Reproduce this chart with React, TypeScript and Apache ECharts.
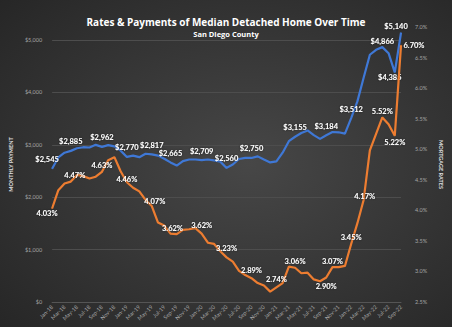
import React, { useEffect, useRef } from "react";
import * as echarts from "echarts";

const months = [
  "Jan-18","Feb-18","Mar-18","Apr-18","May-18","Jun-18","Jul-18","Aug-18","Sep-18","Oct-18","Nov-18","Dec-18",
  "Jan-19","Feb-19","Mar-19","Apr-19","May-19","Jun-19","Jul-19","Aug-19","Sep-19","Oct-19","Nov-19","Dec-19",
  "Jan-20","Feb-20","Mar-20","Apr-20","May-20","Jun-20","Jul-20","Aug-20","Sep-20","Oct-20","Nov-20","Dec-20",
  "Jan-21","Feb-21","Mar-21","Apr-21","May-21","Jun-21","Jul-21","Aug-21","Sep-21","Oct-21","Nov-21","Dec-21",
  "Jan-22","Feb-22","Mar-22","Apr-22","May-22","Jun-22","Jul-22","Aug-22","Sep-22",
];

const paymentValues = [
  2545, 2760, 2850, 2885, 2935, 2955, 2950, 3000, 2962, 2995, 2970, 2890,
  2770, 2795, 2765, 2830, 2817, 2795, 2735, 2665, 2605, 2690, 2720, 2720,
  2709, 2720, 2705, 2680, 2560, 2625, 2730, 2750, 2750, 2780, 2720, 2665,
  2685, 2850, 3070, 3155, 3225, 3275, 3185, 3115, 3184, 3245, 3240, 3215,
  3512, 3830, 4280, 4720, 4815, 4866, 4750, 4385, 5140,
];

const rateValues = [
  4.03, 4.33, 4.44, 4.47, 4.58, 4.56, 4.52, 4.55, 4.63, 4.82, 4.87, 4.64,
  4.46, 4.37, 4.31, 4.17, 4.07, 3.80, 3.75, 3.62, 3.61, 3.68, 3.69, 3.71,
  3.62, 3.47, 3.45, 3.33, 3.23, 3.16, 3.01, 2.94, 2.89, 2.81, 2.77, 2.67,
  2.74, 2.81, 3.08, 3.06, 2.97, 2.98, 2.87, 2.84, 2.90, 3.07, 3.07, 3.09,
  3.45, 3.79, 4.17, 4.98, 5.25, 5.52, 5.41, 5.22, 6.70,
];

const paymentLabelIdx = [0, 3, 8, 12, 16, 19, 24, 28, 32, 39, 44, 48, 53, 55, 56];
const rateLabelIdx = [0, 3, 8, 12, 16, 19, 24, 28, 32, 36, 39, 44, 45, 48, 50, 53, 55, 56];

const paymentLabelStyle: Record<number, any> = {
  0: { offset: [-5, 0] },
  53: { distance: 1 },
  55: { position: "bottom", distance: 1, offset: [-5, 0] },
  56: { distance: 2, offset: [-5, 0] },
};

const rateLabelStyle: Record<number, any> = {
  0: { position: "bottom", distance: 0, offset: [-5, 0] },
  3: { offset: [4, 0] },
  12: { position: "inside", offset: [0, -3] },
  16: { position: "inside", offset: [3, -5] },
  19: { position: "inside", offset: [2, -5] },
  24: { distance: 4 },
  28: { distance: 4 },
  32: { distance: 3 },
  36: { distance: 3 },
  44: { position: "bottom", distance: 4 },
  50: { position: "inside", offset: [1, -3] },
  55: { position: "bottom", distance: 2 },
  56: { position: "right", distance: 2 },
};

const FONT = "Lato";
const TITLE_FONT = "Open Sans";
const BLUE = "#3f78d6";
const ORANGE = "#ed7d31";
const AXIS_TEXT = "#a5a5a5";

const labelBase = {
  show: true,
  color: "#ffffff",
  fontFamily: FONT,
  fontWeight: "bold" as const,
  fontSize: 7.5,
  textShadowColor: "rgba(0,0,0,0.6)",
  textShadowBlur: 2,
};

export default function App() {
  const ref = useRef<HTMLDivElement>(null);

  useEffect(() => {
    document.body.style.margin = "0";
    if (!ref.current) return;
    const chart = echarts.init(ref.current, undefined, { renderer: "svg" });

    const paymentData = paymentValues.map((v, i) =>
      paymentLabelIdx.includes(i)
        ? {
            value: v,
            label: {
              ...labelBase,
              position: "top",
              distance: 4.5,
              formatter: "$" + v.toLocaleString("en-US"),
              ...(paymentLabelStyle[i] || {}),
            },
          }
        : v
    );
    const rateData = rateValues.map((v, i) =>
      rateLabelIdx.includes(i)
        ? {
            value: v,
            label: {
              ...labelBase,
              position: "top",
              distance: 1.5,
              formatter: v.toFixed(2) + "%",
              ...(rateLabelStyle[i] || {}),
            },
          }
        : v
    );

    chart.setOption({
      animation: false,
      backgroundColor: {
        type: "radial",
        x: 0.55,
        y: 0.5,
        r: 0.75,
        colorStops: [
          { offset: 0, color: "#474747" },
          { offset: 1, color: "#262626" },
        ],
      },
      title: [
        {
          text: "Rates & Payments of Median Detached Home Over Time",
          left: "center",
          top: 12,
          textStyle: { color: "#ffffff", fontSize: 10, fontWeight: "bold", fontFamily: TITLE_FONT },
        },
        {
          text: "San Diego County",
          left: "center",
          top: 25,
          textStyle: { color: "#ffffff", fontSize: 7.5, fontWeight: "bold", fontFamily: TITLE_FONT },
        },
      ],
      grid: { left: 43, right: 36, top: 27, bottom: 25, containLabel: false },
      xAxis: {
        type: "category",
        data: months,
        boundaryGap: false,
        axisLine: { show: true, lineStyle: { color: "#555555" } },
        axisTick: { show: false },
        axisLabel: {
          interval: 1,
          rotate: 45,
          fontSize: 5.5,
          color: AXIS_TEXT,
          fontFamily: FONT,
          margin: 4,
        },
        splitLine: { show: false },
      },
      yAxis: [
        {
          type: "value",
          min: 0,
          max: 5250,
          interval: 1000,
          name: "MONTHLY PAYMENT",
          nameLocation: "middle",
          nameGap: 35,
          nameRotate: 90,
          nameTextStyle: { color: "#e0e0e0", fontSize: 5.5, fontWeight: "bold", fontFamily: FONT },
          axisLine: { show: false },
          axisTick: { show: false },
          axisLabel: {
            showMaxLabel: false,
            fontSize: 5.5,
            color: AXIS_TEXT,
            fontFamily: FONT,
            margin: 10,
            formatter: (v: number) => "$" + v.toLocaleString("en-US"),
          },
          splitLine: { show: true, showMaxLine: false, lineStyle: { color: "#4d4d4d", width: 1 } },
        },
        {
          type: "value",
          min: 2.5,
          max: 7.0,
          interval: 0.5,
          position: "right",
          name: "MORTGAGE RATES",
          nameLocation: "middle",
          nameGap: 32,
          nameRotate: -90,
          nameTextStyle: { color: "#e0e0e0", fontSize: 5.5, fontWeight: "bold", fontFamily: FONT },
          axisLine: { show: false },
          axisTick: { show: false },
          axisLabel: {
            fontSize: 5.5,
            color: AXIS_TEXT,
            fontFamily: FONT,
            margin: 14,
            formatter: (v: number) => v.toFixed(1) + "%",
          },
          splitLine: { show: false },
        },
      ],
      series: [
        {
          name: "Monthly Payment",
          type: "line",
          yAxisIndex: 0,
          data: paymentData,
          symbol: "circle",
          symbolSize: 1,
          showSymbol: true,
          itemStyle: { color: BLUE },
          lineStyle: { color: BLUE, width: 2.2 },
          label: { show: false },
          z: 2,
        },
        {
          name: "Mortgage Rate",
          type: "line",
          yAxisIndex: 1,
          data: rateData,
          symbol: "circle",
          symbolSize: 1,
          showSymbol: true,
          itemStyle: { color: ORANGE },
          lineStyle: { color: ORANGE, width: 2.2 },
          label: { show: false },
          z: 3,
        },
      ],
    });

    return () => {
      chart.dispose();
    };
  }, []);

  return <div ref={ref} style={{ width: 452, height: 327 }} />;
}
